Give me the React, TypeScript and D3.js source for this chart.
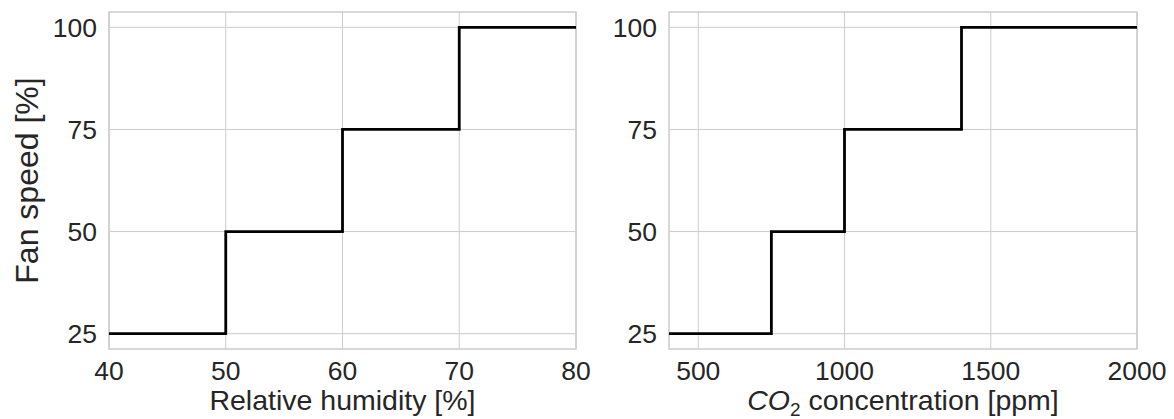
import React from "react";
import * as d3 from "d3";

const humidityX = [40, 50, 60, 70, 80];
const humiditySpeed = [25, 50, 75, 100, 100];
const co2X = [400, 750, 1000, 1400, 2000];
const co2Speed = [25, 50, 75, 100, 100];
const yTicks = [25, 50, 75, 100];
const humTicks = [40, 50, 60, 70, 80];
const co2Ticks = [500, 1000, 1500, 2000];

const W = 1174, H = 419;
const top = 12, bottom = 349;
const FONT = "Liberation Sans, Arial, sans-serif";
const GRID = "#cccccc";
const TXT = "#262626";
const LABEL = 28.5;

function Panel({ x0, x1, xs, ys, domain, ticks, label }: any) {
  const x = d3.scaleLinear().domain(domain).range([x0, x1]);
  const y = d3.scaleLinear().domain([21.25, 103.75]).range([bottom, top]);
  const line = d3.line<[number, number]>().x(d => x(d[0])).y(d => y(d[1])).curve(d3.curveStepAfter);
  const pts: [number, number][] = xs.map((v: number, i: number) => [v, ys[i]]);
  return (
    <g>
      {ticks.map((t: number) => (
        <line key={"gx" + t} x1={x(t)} x2={x(t)} y1={top} y2={bottom} stroke={GRID} strokeWidth={1} />
      ))}
      {yTicks.map(t => (
        <line key={"gy" + t} x1={x0} x2={x1} y1={y(t)} y2={y(t)} stroke={GRID} strokeWidth={1} />
      ))}
      <rect x={x0} y={top} width={x1 - x0} height={bottom - top} fill="none" stroke={GRID} strokeWidth={1.5} />
      <path d={line(pts) || ""} fill="none" stroke="#000" strokeWidth={2.8} />
      {yTicks.map(t => (
        <text key={"ty" + t} x={x0 - 12} y={y(t)} dy="0.36em" textAnchor="end" fontSize={26.5} fill={TXT} fontFamily={FONT}>{t}</text>
      ))}
      {ticks.map((t: number) => (
        <text key={"tx" + t} x={x(t)} y={380} textAnchor="middle" fontSize={26.5} fill={TXT} fontFamily={FONT}>{t}</text>
      ))}
      <text x={(x0 + x1) / 2} y={410} textAnchor="middle" fontSize={LABEL} fill={TXT} fontFamily={FONT}>{label}</text>
    </g>
  );
}

export default function App() {
  return (
    <svg width={W} height={H} style={{ position: "absolute", left: 0, top: 0 }}>
      <rect width={W} height={H} fill="#fff" />
      <text transform={`translate(38,${(top + bottom) / 2}) rotate(-90)`} textAnchor="middle" fontSize={32} fill={TXT} fontFamily={FONT}>Fan speed [%]</text>
      <Panel x0={109} x1={576} xs={humidityX} ys={humiditySpeed} domain={[40, 80]} ticks={humTicks} label="Relative humidity [%]" />
      <Panel x0={669} x1={1137} xs={co2X} ys={co2Speed} domain={[400, 2000]} ticks={co2Ticks}
        label={<><tspan fontStyle="italic">CO</tspan><tspan fontSize={19} dy={6}>2</tspan><tspan dy={-6}> concentration [ppm]</tspan></>} />
    </svg>
  );
}
